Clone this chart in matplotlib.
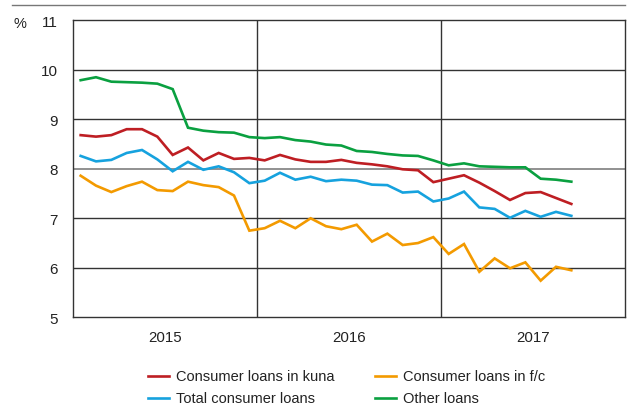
import matplotlib
matplotlib.use("Agg")
import matplotlib.pyplot as plt
from matplotlib import font_manager
from matplotlib.lines import Line2D

names = {f.name for f in font_manager.fontManager.ttflist}
fam = "Liberation Sans Narrow" if "Liberation Sans Narrow" in names else "Liberation Sans"
plt.rcParams['font.family'] = [fam, 'DejaVu Sans']

years = ["2015", "2016", "2017"]
yticks = [5, 6, 7, 8, 9, 10, 11]

kuna = [8.68, 8.65, 8.68, 8.80, 8.80, 8.65, 8.28, 8.43, 8.17, 8.32, 8.20, 8.22,
        8.17, 8.28, 8.19, 8.14, 8.14, 8.18, 8.12, 8.09, 8.05, 7.99, 7.97, 7.73,
        7.80, 7.87, 7.72, 7.55, 7.37, 7.51, 7.53, 7.41, 7.29]
fc = [7.86, 7.66, 7.53, 7.65, 7.74, 7.57, 7.55, 7.74, 7.67, 7.63, 7.46, 6.75,
      6.80, 6.95, 6.80, 7.00, 6.84, 6.78, 6.87, 6.53, 6.69, 6.46, 6.50, 6.62,
      6.28, 6.48, 5.92, 6.19, 5.99, 6.11, 5.74, 6.02, 5.95]
total = [8.26, 8.15, 8.18, 8.32, 8.38, 8.19, 7.95, 8.14, 7.98, 8.05, 7.93, 7.71,
         7.76, 7.92, 7.78, 7.84, 7.75, 7.78, 7.76, 7.68, 7.67, 7.52, 7.54, 7.34,
         7.40, 7.54, 7.22, 7.19, 7.01, 7.15, 7.03, 7.13, 7.05]
other = [9.79, 9.85, 9.76, 9.75, 9.74, 9.72, 9.61, 8.83, 8.77, 8.74, 8.73, 8.64,
         8.62, 8.64, 8.58, 8.55, 8.49, 8.47, 8.36, 8.34, 8.30, 8.27, 8.26, 8.17,
         8.07, 8.11, 8.05, 8.04, 8.03, 8.03, 7.80, 7.78, 7.74]

series = [("Consumer loans in kuna", kuna, "#BE1E23"),
          ("Consumer loans in f/c", fc, "#F39A00"),
          ("Total consumer loans", total, "#16A2DE"),
          ("Other loans", other, "#0AA040")]

W, H = 628, 410
fig = plt.figure(figsize=(W / 100, H / 100), dpi=100)
L, R, T, B = 73, 625, 21.3, 318.3
ax = fig.add_axes([L / W, 1 - B / H, (R - L) / W, (B - T) / H])

x = list(range(len(kuna)))
for lab, vals, col in series:
    ax.plot(x, vals, color=col, lw=1.9, solid_joinstyle='miter', zorder=3)

ax.set_xlim(-0.5, 35.5)
ax.set_ylim(5, 11)
ax.set_yticks(yticks)
ax.set_yticklabels([str(v) for v in yticks], fontsize=11, color="#222222")
ax.tick_params(axis='y', length=0, pad=11)
ax.set_xticks([])
for v in yticks[1:-1]:
    ax.axhline(v, color="#888888" if v == 8 else "#333333",
               lw=1.3 if v == 8 else 1.0, zorder=1)
for xv in [11.5, 23.5]:
    ax.axvline(xv, color="#333333", lw=1.0, zorder=1)
for s in ax.spines.values():
    s.set_color("#333333")
    s.set_linewidth(1.0)

for i, yr in enumerate(years):
    ax.text(5.5 + 12 * i, -0.065, yr, transform=ax.get_xaxis_transform(),
            ha='center', va='center', fontsize=10.8, color="#222222")

fig.text(13 / W, 1 - 24 / H, "%", ha='left', va='center', fontsize=10.5, color="#222222")
fig.add_artist(Line2D([12 / W, 625 / W], [1 - 6 / H, 1 - 6 / H], color="#777777", lw=1.0))

# legend
pos = [(148, 377), (375, 377), (148, 399), (375, 399)]
for (px, py), (lab, vals, col) in zip(pos, series):
    fig.add_artist(Line2D([px / W, (px + 21) / W], [1 - py / H] * 2, color=col, lw=1.9))
    fig.text((px + 28) / W, 1 - py / H, lab, ha='left', va='center', fontsize=10.5, color="#222222")

fig.savefig("out.png", dpi=100)
